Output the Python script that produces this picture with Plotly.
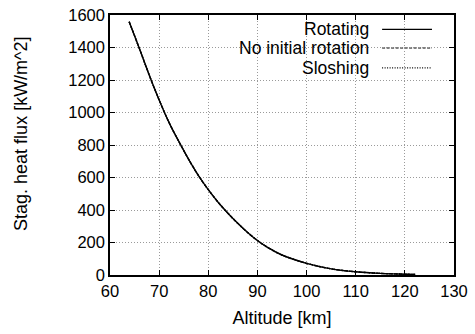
import plotly.graph_objects as go

# Data (all three series overlap)
altitude_km = [63.9, 66, 68, 70, 72, 74, 76, 78, 80, 82, 84, 86, 88, 90, 92, 95,
               100, 105, 110, 115, 120, 122.1]
rotating = [1559, 1392, 1229, 1077, 939, 822, 712, 612, 525, 448, 380, 318, 262, 212, 171, 123,
            72, 38, 20, 10, 5, 3]
no_initial_rotation = list(rotating)
sloshing = list(rotating)

series_names = ["Rotating", "No initial rotation", "Sloshing"]
series_dash = ["solid", "3px,1.5px", "1px,1.5px"]
series_values = [rotating, no_initial_rotation, sloshing]

x_ticks = [60, 70, 80, 90, 100, 110, 120, 130]
y_ticks = [0, 200, 400, 600, 800, 1000, 1200, 1400, 1600]

FONT = "Liberation Sans, Arial, sans-serif"

fig = go.Figure()
for name, vals, dash in reversed(list(zip(series_names, series_values, series_dash))):
    fig.add_trace(go.Scatter(
        x=altitude_km, y=vals, mode="lines", name=name,
        line=dict(color="black", width=1.4, dash=dash, shape="spline", smoothing=1.0),
        showlegend=False,
    ))

axis_common = dict(
    showline=True, linecolor="black", linewidth=1.5, mirror="ticks",
    ticks="inside", ticklen=5, tickwidth=1, tickcolor="black",
    showgrid=True, gridcolor="#9a9a9a", gridwidth=1, griddash="1px,2px",
    zeroline=False, tickfont=dict(family=FONT, size=16.5, color="black"),
    automargin=False,
)

fig.update_xaxes(range=[60, 130], tickvals=x_ticks,
                 title=dict(text="Altitude [km]", font=dict(family=FONT, size=18, color="black"), standoff=13),
                 **axis_common)
fig.update_yaxes(range=[0, 1600], tickvals=y_ticks, **axis_common)

# gnuplot-style key: white box, right-aligned labels, samples on the right
shapes = [dict(type="rect", xref="paper", yref="paper", x0=0.137, x1=0.968, y0=0.785, y1=0.985,
               fillcolor="white", line=dict(width=0), layer="between")]
annotations = [dict(xref="paper", yref="paper", x=-0.259, y=0.546, text="Stag. heat flux [kW/m^2]",
                    textangle=-90, showarrow=False, xanchor="center", yanchor="middle",
                    font=dict(family=FONT, size=18, color="black"))]
rows_y = [0.945, 0.873, 0.797]
for name, dash, ry in zip(series_names, series_dash, rows_y):
    annotations.append(dict(xref="paper", yref="paper", x=0.756, y=ry, text=name,
                            showarrow=False, xanchor="right", yanchor="middle", borderpad=0,
                            font=dict(family=FONT, size=17.5, color="black")))
    shapes.append(dict(type="line", xref="paper", yref="paper", x0=0.791, x1=0.936, y0=ry, y1=ry,
                       line=dict(color="black", width=1.2, dash=dash), layer="between"))

fig.update_layout(
    width=475, height=334,
    margin=dict(l=110, r=21, t=15, b=59),
    paper_bgcolor="white", plot_bgcolor="white",
    shapes=shapes, annotations=annotations,
    font=dict(family=FONT, color="black"),
)

fig.write_html("out.html")
